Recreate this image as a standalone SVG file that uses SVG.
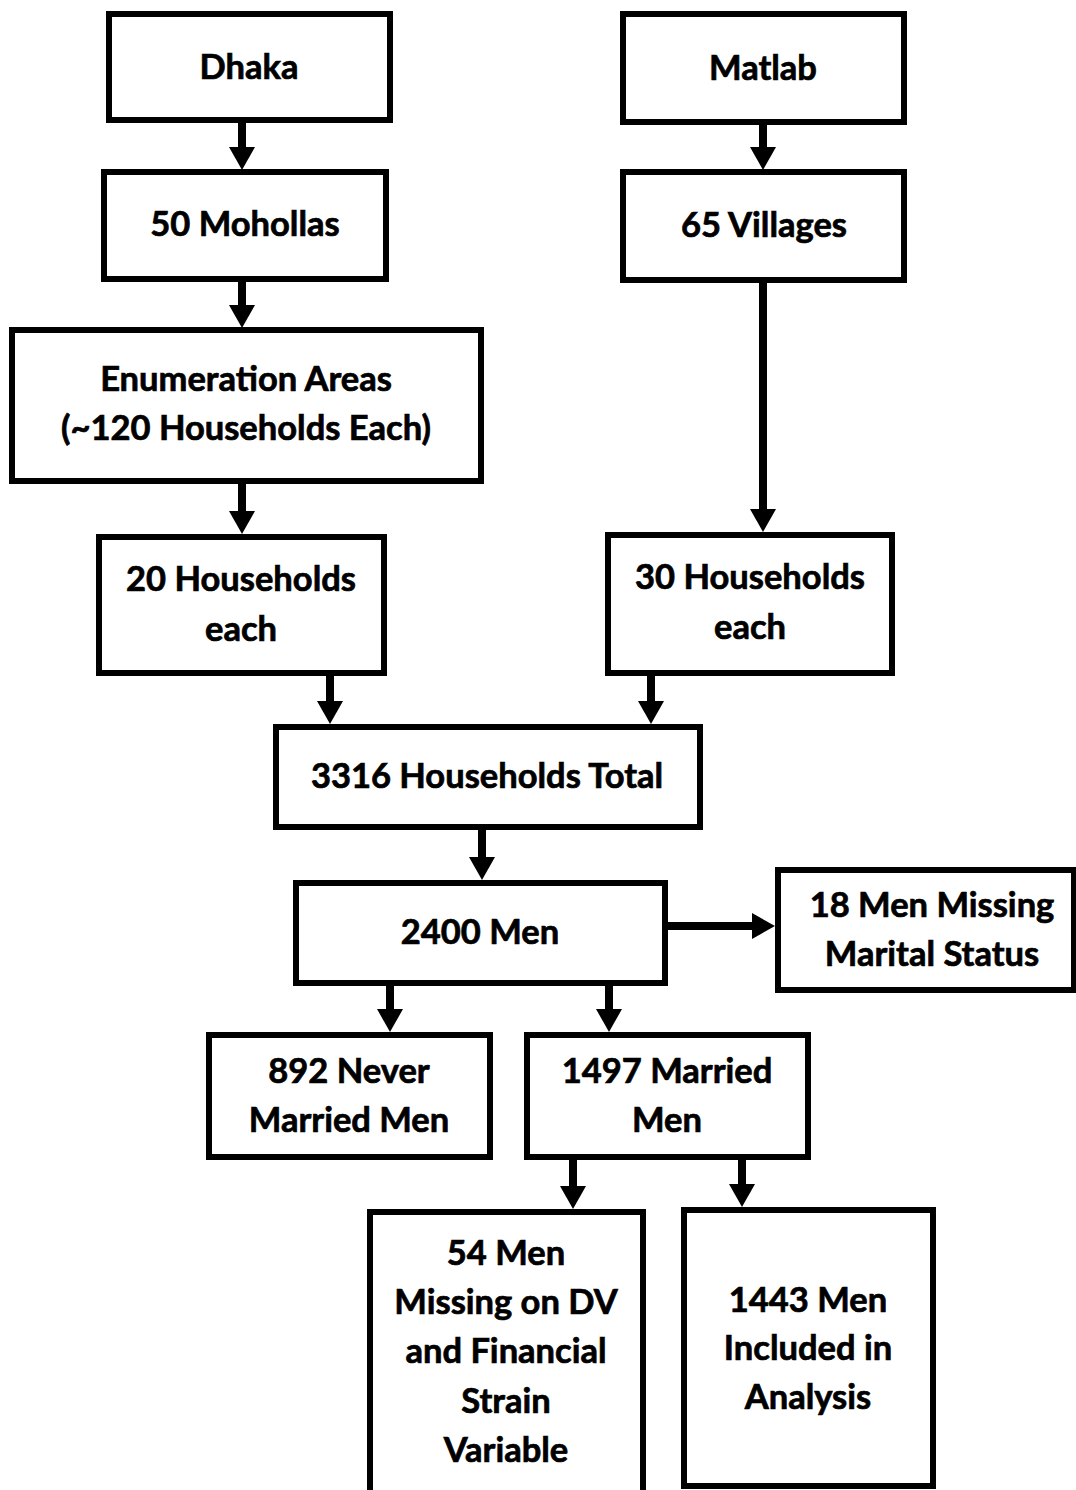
<svg xmlns="http://www.w3.org/2000/svg" width="1076" height="1490" viewBox="0 0 1076 1490">
<style>
.box{fill:#fff;stroke:#000;stroke-width:6}
.t{font-family:Lato,"Liberation Sans",sans-serif;font-weight:bold;font-size:34.5px;text-anchor:middle;fill:#000;stroke:#000;stroke-width:0.7}
.c{stroke:#000;stroke-width:8;fill:none;marker-end:url(#ah)}
</style>
<defs>
<marker id="ah" markerUnits="userSpaceOnUse" viewBox="0 0 23 26" markerWidth="23" markerHeight="26" refX="1" refY="13" orient="auto">
<path d="M0,0 L23,13 L0,26 z" fill="#000"/>
</marker>
</defs>
<rect width="1076" height="1490" fill="#fff"/>
<g id="connectors">
<line class="c" x1="242" y1="122" x2="242" y2="148"/>
<line class="c" x1="242" y1="279" x2="242" y2="306"/>
<line class="c" x1="242" y1="482" x2="242" y2="512"/>
<line class="c" x1="763" y1="123" x2="763" y2="148"/>
<line class="c" x1="763" y1="281" x2="763" y2="510"/>
<line class="c" x1="330" y1="674" x2="330" y2="702"/>
<line class="c" x1="651" y1="674" x2="651" y2="702"/>
<line class="c" x1="482" y1="828" x2="482" y2="858"/>
<line class="c" x1="667" y1="926" x2="753" y2="926"/>
<line class="c" x1="390" y1="984" x2="390" y2="1010"/>
<line class="c" x1="609" y1="984" x2="609" y2="1010"/>
<line class="c" x1="573" y1="1158" x2="573" y2="1187"/>
<line class="c" x1="742" y1="1158" x2="742" y2="1185"/>
</g>
<g id="dhaka"><rect class="box" x="109" y="14" width="281" height="106"/><text class="t" x="249" y="79">Dhaka</text></g>
<g id="matlab"><rect class="box" x="623" y="14" width="281" height="108"/><text class="t" x="763" y="80">Matlab</text></g>
<g id="mohollas"><rect class="box" x="104" y="172" width="282" height="107"/><text class="t" x="245" y="236">50 Mohollas</text></g>
<g id="villages"><rect class="box" x="623" y="172" width="281" height="108"/><text class="t" x="764" y="237">65 Villages</text></g>
<g id="enumeration"><rect class="box" x="12" y="330" width="469" height="151"/><text class="t" x="246" y="391">Enumeration Areas</text><text class="t" x="246" y="440">(~120 Households Each)</text></g>
<g id="hh20"><rect class="box" x="99" y="537" width="285" height="136"/><text class="t" x="241" y="591">20 Households</text><text class="t" x="241" y="641">each</text></g>
<g id="hh30"><rect class="box" x="608" y="535" width="284" height="138"/><text class="t" x="750" y="589">30 Households</text><text class="t" x="750" y="639">each</text></g>
<g id="total"><rect class="box" x="276" y="727" width="424" height="100"/><text class="t" x="487" y="788">3316 Households Total</text></g>
<g id="men2400"><rect class="box" x="296" y="883" width="369" height="100"/><text class="t" x="480" y="944">2400 Men</text></g>
<g id="missing18"><rect class="box" x="778" y="870" width="296" height="120"/><text class="t" x="932" y="917">18 Men Missing</text><text class="t" x="932" y="966">Marital Status</text></g>
<g id="never892"><rect class="box" x="209" y="1035" width="281" height="122"/><text class="t" x="349" y="1083">892 Never</text><text class="t" x="349" y="1132">Married Men</text></g>
<g id="married1497"><rect class="box" x="527" y="1035" width="281" height="122"/><text class="t" x="667" y="1083">1497 Married</text><text class="t" x="667" y="1132">Men</text></g>
<g id="missing54"><rect class="box" x="370" y="1212" width="273" height="300"/><text class="t" x="506" y="1265">54 Men</text><text class="t" x="506" y="1314">Missing on DV</text><text class="t" x="506" y="1363">and Financial</text><text class="t" x="506" y="1413">Strain</text><text class="t" x="506" y="1462">Variable</text></g>
<g id="included1443"><rect class="box" x="684" y="1210" width="249" height="276"/><text class="t" x="808" y="1312">1443 Men</text><text class="t" x="808" y="1360">Included in</text><text class="t" x="808" y="1409">Analysis</text></g>
</svg>
